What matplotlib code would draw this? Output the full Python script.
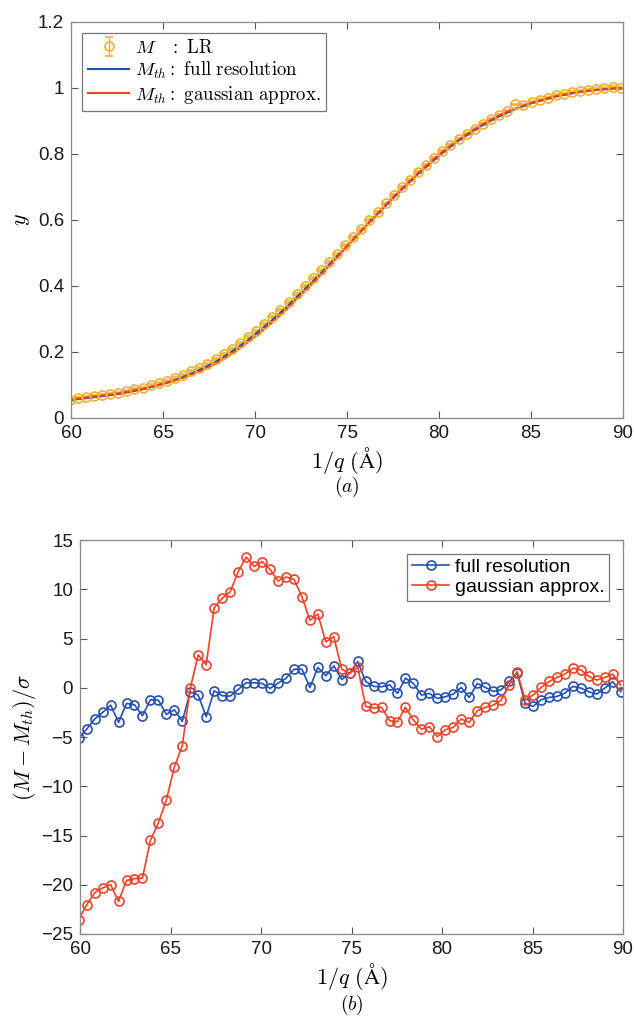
import matplotlib
matplotlib.use("Agg")
from matplotlib import pyplot as plt

plt.rcParams["font.family"] = ["Liberation Sans", "DejaVu Sans"]
plt.rcParams["mathtext.fontset"] = "cm"

# 1/q grid (Angstrom)
inv_q = [59.93, 60.37, 60.81, 61.25, 61.69, 62.13, 62.57, 63.01, 63.45, 63.89,
         64.33, 64.77, 65.21, 65.65, 66.09, 66.53, 66.97, 67.41, 67.86, 68.30,
         68.74, 69.18, 69.62, 70.06, 70.50, 70.94, 71.38, 71.82, 72.26, 72.70,
         73.14, 73.58, 74.02, 74.46, 74.90, 75.34, 75.78, 76.22, 76.66, 77.10,
         77.54, 77.98, 78.42, 78.86, 79.30, 79.74, 80.18, 80.62, 81.06, 81.50,
         81.95, 82.39, 82.83, 83.27, 83.71, 84.15, 84.59, 85.03, 85.47, 85.91,
         86.35, 86.79, 87.23, 87.67, 88.11, 88.55, 88.99, 89.43, 89.87]

# measured M (LR)
m_lr = [0.056, 0.060, 0.063, 0.066, 0.070, 0.073, 0.077, 0.082, 0.087, 0.092,
        0.099, 0.106, 0.113, 0.121, 0.131, 0.141, 0.152, 0.164, 0.178, 0.193,
        0.209, 0.227, 0.245, 0.265, 0.285, 0.306, 0.328, 0.351, 0.375, 0.399,
        0.423, 0.448, 0.473, 0.498, 0.523, 0.549, 0.574, 0.600, 0.625, 0.650,
        0.675, 0.699, 0.722, 0.745, 0.767, 0.787, 0.808, 0.827, 0.845, 0.862,
        0.877, 0.892, 0.905, 0.918, 0.930, 0.950, 0.948, 0.957, 0.964, 0.971,
        0.978, 0.983, 0.989, 0.992, 0.994, 0.996, 0.999, 1.004, 1.000]
m_err = 0.003

m_th_full = [0.054, 0.057, 0.060, 0.063, 0.066, 0.069, 0.073, 0.077, 0.082, 0.087,
             0.093, 0.100, 0.107, 0.115, 0.124, 0.134, 0.145, 0.157, 0.170, 0.185,
             0.201, 0.218, 0.236, 0.256, 0.276, 0.297, 0.319, 0.342, 0.366, 0.390,
             0.414, 0.439, 0.464, 0.490, 0.515, 0.541, 0.567, 0.593, 0.618, 0.643,
             0.668, 0.692, 0.716, 0.739, 0.761, 0.782, 0.803, 0.822, 0.840, 0.857,
             0.873, 0.888, 0.901, 0.914, 0.925, 0.936, 0.945, 0.954, 0.961, 0.968,
             0.974, 0.979, 0.984, 0.988, 0.991, 0.994, 0.996, 0.998, 0.999]

m_th_gauss = [0.056, 0.059, 0.062, 0.065, 0.068, 0.071, 0.075, 0.079, 0.084, 0.088,
              0.094, 0.100, 0.106, 0.114, 0.122, 0.131, 0.141, 0.152, 0.165, 0.179,
              0.195, 0.212, 0.230, 0.249, 0.269, 0.290, 0.312, 0.335, 0.360, 0.384,
              0.409, 0.434, 0.460, 0.486, 0.513, 0.540, 0.567, 0.594, 0.620, 0.646,
              0.671, 0.695, 0.719, 0.742, 0.764, 0.786, 0.806, 0.825, 0.843, 0.860,
              0.876, 0.891, 0.904, 0.917, 0.928, 0.938, 0.947, 0.955, 0.962, 0.969,
              0.975, 0.980, 0.984, 0.988, 0.991, 0.994, 0.996, 0.998, 0.999]

# normalised residuals (M - M_th)/sigma
res_full = [-5.15, -4.19, -3.17, -2.50, -1.76, -3.51, -1.59, -1.72, -2.84, -1.22,
            -1.25, -2.70, -2.23, -3.41, -0.41, -0.74, -2.94, -0.30, -0.81, -0.84,
            -0.17, 0.51, 0.51, 0.44, -0.07, 0.47, 0.95, 1.89, 1.89, 0.03,
            2.06, 1.22, 2.23, 0.84, 1.49, 2.67, 0.64, 0.14, 0.10, 0.30,
            -0.57, 0.98, 0.44, -0.74, -0.57, -1.08, -0.91, -0.64, 0.03, -0.98,
            0.44, 0.03, -0.37, -0.20, 0.64, 1.49, -1.59, -1.89, -1.22, -0.98,
            -0.88, -0.54, 0.14, -0.03, -0.41, -0.64, -0.03, 0.61, -0.41]

res_gauss = [-23.55, -22.02, -20.80, -20.33, -19.99, -21.68, -19.56, -19.38, -19.32, -15.50,
             -13.71, -11.40, -8.07, -5.88, -0.07, 3.34, 2.33, 8.11, 9.09, 9.76,
             11.79, 13.27, 12.33, 12.80, 12.02, 10.84, 11.25, 11.01, 9.25, 6.86,
             7.47, 4.66, 5.20, 1.89, 1.45, 2.15, -1.89, -2.06, -1.99, -3.34,
             -3.44, -1.99, -3.28, -4.19, -3.95, -4.96, -4.26, -4.02, -3.17, -3.51,
             -2.33, -1.99, -1.76, -1.25, 0.30, 1.65, -1.22, -0.74, 0.03, 0.64,
             1.05, 1.39, 1.99, 1.82, 1.15, 0.78, 1.05, 1.39, 0.27]

c_orange = "#f0b030"
c_blue = "#2450ae"
c_red = "#ee4228"


def matlab_axes(ax):
    for s in ax.spines.values():
        s.set_color("#8a8a8a")
        s.set_linewidth(0.9)
    ax.tick_params(direction="in", top=True, right=True, length=5, width=0.8,
                   color="#555555", labelsize=13.5, labelcolor="#1a1a1a", pad=5)


fig = plt.figure(figsize=(6.34, 10.23), dpi=100)

# (a) data and model curves
ax1 = fig.add_axes([0.112, 0.5914, 0.8707, 0.3871])
h_m = ax1.errorbar(inv_q, m_lr, yerr=m_err, fmt="o", color=c_orange, mfc="none",
                   ms=6.5, mew=1.2, elinewidth=1.0, capsize=3)
h_full, = ax1.plot(inv_q, m_th_full, color=c_blue, lw=1.5)
h_gauss, = ax1.plot(inv_q, m_th_gauss, color=c_red, lw=1.5)
ax1.set_xlim(60, 90)
ax1.set_ylim(0, 1.2)
ax1.set_xticks([60, 65, 70, 75, 80, 85, 90])
ax1.set_yticks([0, 0.2, 0.4, 0.6, 0.8, 1.0, 1.2])
ax1.set_yticklabels(["0", "0.2", "0.4", "0.6", "0.8", "1", "1.2"])
ax1.set_xlabel(r"$1/q\ (\mathrm{\AA})$", fontsize=16, labelpad=2)
ax1.set_ylabel(r"$y$", fontsize=16, labelpad=4)
matlab_axes(ax1)
leg1 = ax1.legend([h_m, h_full, h_gauss],
                  [r"$M\ \ \ :\ \mathrm{LR}$",
                   r"$M_{th}\mathrm{:\ full\ resolution}$",
                   r"$M_{th}\mathrm{:\ gaussian\ approx.}$"],
                  loc="upper left", fontsize=13.5, frameon=True, fancybox=False,
                  edgecolor="#555555", handlelength=2.2, borderaxespad=0.6,
                  handletextpad=0.3, borderpad=0.3, labelspacing=0.15)
leg1.get_frame().set_linewidth(0.9)
fig.text(0.547, 0.524, r"$(a)$", fontsize=14, ha="center", va="center")

# (b) residuals
ax2 = fig.add_axes([0.1262, 0.087, 0.8565, 0.3851])
ax2.plot(inv_q, res_full, "-o", color=c_blue, mfc="none", ms=6.5, mew=1.2, lw=1.2,
         label="full resolution")
ax2.plot(inv_q, res_gauss, "-o", color=c_red, mfc="none", ms=6.5, mew=1.2, lw=1.2,
         label="gaussian approx.")
ax2.set_xlim(60, 90)
ax2.set_ylim(-25, 15)
ax2.set_xticks([60, 65, 70, 75, 80, 85, 90])
ax2.set_yticks(range(-25, 16, 5))
ax2.set_xlabel(r"$1/q\ (\mathrm{\AA})$", fontsize=16, labelpad=2)
ax2.set_ylabel(r"$(M-M_{th})/\sigma$", fontsize=16, labelpad=2)
matlab_axes(ax2)
leg2 = ax2.legend(loc="upper right", fontsize=14, frameon=True, fancybox=False,
                  edgecolor="#555555", handlelength=1.9, borderaxespad=0.7,
                  handletextpad=0.3, borderpad=0.25, labelspacing=0.1)
leg2.get_frame().set_linewidth(0.9)
fig.text(0.555, 0.0176, r"$(b)$", fontsize=14, ha="center", va="center")

fig.savefig("out.png", dpi=100)
